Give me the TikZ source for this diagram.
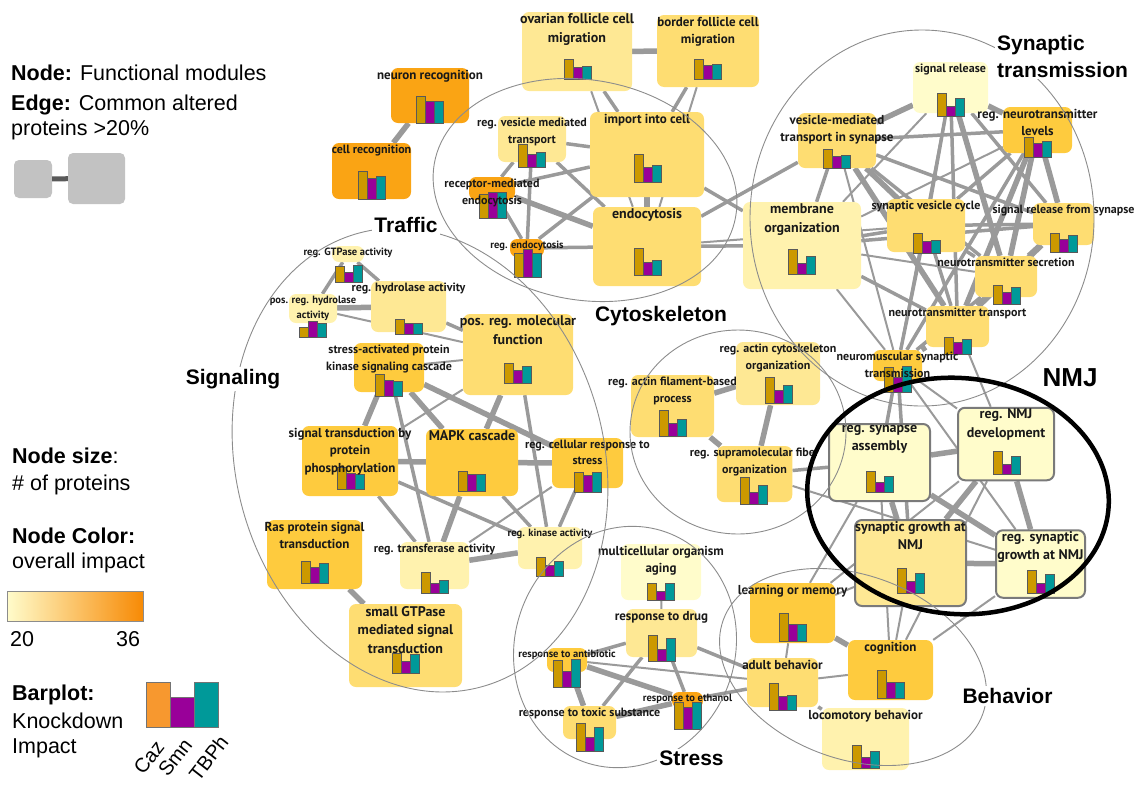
\documentclass[tikz,border=0pt]{standalone}
\usepackage{fontspec}
\setmainfont{Liberation Sans}
\newfontfamily\modfont{PT Sans}
\usetikzlibrary{positioning, calc, backgrounds}
\definecolor{impPale}{HTML}{FFFCCB}
\definecolor{impLight}{HTML}{FFF2AE}
\definecolor{impLightYel}{HTML}{FEE894}
\definecolor{impYel}{HTML}{FEDD72}
\definecolor{impGold}{HTML}{FECB3E}
\definecolor{impOrange}{HTML}{FAA414}
\definecolor{impMid}{HTML}{FEEBA5}
\definecolor{impMax}{HTML}{F78A05}
\definecolor{cazbar}{HTML}{CC9900}
\definecolor{smnbar}{HTML}{990099}
\definecolor{tbphbar}{HTML}{009999}
\definecolor{cazlegend}{HTML}{F7982F}
\definecolor{edgegray}{HTML}{9A9A9A}
\definecolor{clustergray}{HTML}{8C8C8C}
\definecolor{nmjborder}{HTML}{7A7A7A}
\definecolor{legendgray}{HTML}{C2C2C2}

% three knockdown bars, #1 = centre of the base
\newcommand{\barplot}[4]{%
  \draw[bar, fill=cazbar] ($(#1)+(-13.5,0)$) rectangle ++(9,-#2);
  \draw[bar, fill=smnbar] ($(#1)+(-4.5,0)$) rectangle ++(9,-#3);
  \draw[bar, fill=tbphbar] ($(#1)+(4.5,0)$) rectangle ++(9,-#4);
}

\begin{document}
\begin{tikzpicture}[
    x=1pt, y=-1pt,
    module/.style={rectangle, rounded corners=7pt, inner sep=0pt},
    nmjmodule/.style={module, draw=nmjborder, line width=2pt},
    boxsize/.style 2 args={minimum width=#1, minimum height=#2},
    modlabel/.style={font=\modfont\bfseries\fontsize{12}{16.5}\selectfont, text=black!90, align=center, inner sep=0pt},
    smalllabel/.style={modlabel, font=\modfont\bfseries\fontsize{10.5}{15}\selectfont},
    largelabel/.style={modlabel, font=\modfont\bfseries\fontsize{13}{17.5}\selectfont},
    hugelabel/.style={modlabel, font=\modfont\bfseries\fontsize{14}{18.5}\selectfont},
    bar/.style={draw=black!65, line width=0.6pt},
    thinlink/.style={draw=edgegray, line width=2pt},
    midlink/.style={draw=edgegray, line width=3.5pt},
    widelink/.style={draw=edgegray, line width=5.5pt},
    cluster/.style={draw=clustergray, line width=0.9pt},
    clusterlabel/.style={font=\bfseries\fontsize{21}{27}\selectfont, fill=white, inner sep=2pt, align=left},
    legendtext/.style={font=\fontsize{21.5}{25}\selectfont, anchor=base west, inner sep=0pt},
    legendbar/.style={draw=black!55, line width=0.8pt}
]
\useasboundingbox (0,0) rectangle (1139,785);

% Legend
\node[legendtext] (lnode) at (11,80) {\textbf{Node:} Functional modules};
\node[legendtext] (ledge) at (11,110) {\textbf{Edge:} Common altered};
\node[legendtext] (ledge2) at (11,135) {proteins >20\%};
\node[module, rounded corners=5pt, fill=legendgray, boxsize={38}{38}] (lsmall) at (33,179) {};
\node[module, rounded corners=5pt, fill=legendgray, boxsize={57}{51}] (lbig) at (96.5,178.5) {};
\draw[draw=black!65, line width=5pt] (lsmall) -- (lbig);
\node[legendtext] (lsize) at (12,463) {\textbf{Node size}:};
\node[legendtext] (lsize2) at (12,490) {\# of proteins};
\node[legendtext] (lcolor) at (12,543) {\textbf{Node Color:}};
\node[legendtext] (lcolor2) at (12,568) {overall impact};
\node[draw=black!45, line width=0.8pt, left color=impPale, middle color=impMid, right color=impMax, boxsize={136}{30}] (scalebar) at (75,606) {};
\node[legendtext] (lmin) at (10,646) {20};
\node[legendtext] (lmax) at (116,646) {36};
\node[legendtext] (lbar) at (12,700) {\textbf{Barplot:}};
\node[legendtext] (lbar2) at (12,728) {Knockdown};
\node[legendtext] (lbar3) at (12,753) {Impact};
\draw[legendbar, fill=cazlegend] (146,727) rectangle (170,682);
\draw[legendbar, fill=smnbar] (170,727) rectangle (194,697);
\draw[legendbar, fill=tbphbar] (194,727) rectangle (218,682);
\node[legendtext, font=\fontsize{20}{24}\selectfont, anchor=east, rotate=52] (lcaz) at (160,743) {Caz};
\node[legendtext, font=\fontsize{20}{24}\selectfont, anchor=east, rotate=52] (lsmn) at (188,741) {Smn};
\node[legendtext, font=\fontsize{20}{24}\selectfont, anchor=east, rotate=52] (ltbph) at (224,738) {TBPh};

% Traffic
\node[module, fill=impOrange, boxsize={78}{55}] (neurorec) at (430,95.5) {};
\barplot{430,123}{27}{22}{22}
\node[largelabel, below=2pt of neurorec.north] (neurorec-t) {neuron recognition};
\node[module, fill=impOrange, boxsize={79}{56}] (cellrec) at (371.5,171) {};
\barplot{371.5,199}{28}{21}{23}
\node[modlabel, below=2pt of cellrec.north] (cellrec-t) {cell recognition};
\node[module, fill=impLightYel, boxsize={110}{79}] (ovarian) at (577,51.5) {};
\barplot{577.5,79}{20}{12}{13}
\node[hugelabel, below=2pt of ovarian.north] (ovarian-t) {ovarian follicle cell\\migration};
\node[module, fill=impYel, boxsize={102}{72}] (border) at (708,51) {};
\barplot{708,79}{20}{14}{15}
\node[largelabel, below=2pt of border.north] (border-t) {border follicle cell\\migration};
\node[module, fill=impLightYel, boxsize={68}{46}] (regves) at (532,139) {};
\barplot{532,167}{23}{13}{15}
\node[modlabel, below=2pt of regves.north] (regves-t) {reg. vesicle mediated\\transport};
\node[module, fill=impYel, boxsize={114}{85}] (importcell) at (647,154.5) {};
\barplot{647.5,182}{28}{15}{17}
\node[largelabel, below=2pt of importcell.north] (importcell-t) {import into cell};
\node[module, fill=impOrange, boxsize={46}{23}] (recendo) at (492,188.5) {};
\barplot{492.5,218}{24}{26}{26}
\node[modlabel, below=2pt of recendo.north] (recendo-t) {receptor-mediated\\endocytosis};
\node[module, fill=impOrange, boxsize={34}{18}] (regendo) at (527,248) {};
\barplot{527.5,277}{24}{28}{24}
\node[smalllabel, below=2pt of regendo.north] (regendo-t) {reg. endocytosis};
\node[module, fill=impYel, boxsize={108}{79}] (endocyt) at (647,246.5) {};
\barplot{647.5,275}{27}{13}{15}
\node[hugelabel, below=2pt of endocyt.north] (endocyt-t) {endocytosis};

% Signaling
\node[module, fill=impLight, boxsize={32}{16}] (gtpase) at (348,254) {};
\barplot{348.5,282}{16}{10}{17}
\node[smalllabel, below=2pt of gtpase.north] (gtpase-t) {reg. GTPase activity};
\node[module, fill=impLight, boxsize={48}{29}] (posreghyd) at (313,308.5) {};
\barplot{312.5,337}{10}{16}{14}
\node[smalllabel, below=2pt of posreghyd.north] (posreghyd-t) {pos. reg. hydrolase\\activity};
\node[module, fill=impLightYel, boxsize={75}{51}] (reghyd) at (408.5,306.5) {};
\barplot{408.5,334}{15}{11}{11}
\node[modlabel, below=2pt of reghyd.north] (reghyd-t) {reg. hydrolase activity};
\node[module, fill=impYel, boxsize={110}{81}] (posregmol) at (518,354.5) {};
\barplot{518,383}{20}{13}{17}
\node[hugelabel, below=2pt of posregmol.north] (posregmol-t) {pos. reg. molecular\\function};
\node[module, fill=impGold, boxsize={70}{49}] (sapk) at (389,367.5) {};
\barplot{388.5,396}{22}{16}{15}
\node[modlabel, below=2pt of sapk.north] (sapk-t) {stress-activated protein\\kinase signaling cascade};
\node[module, fill=impGold, boxsize={96}{70}] (sigphos) at (350,461) {};
\barplot{350.5,489}{22}{16}{15}
\node[largelabel, below=2pt of sigphos.north] (sigphos-t) {signal transduction by\\protein\\phosphorylation};
\node[module, fill=impGold, boxsize={92}{67}] (mapk) at (472,462.5) {};
\barplot{472,491}{20}{17}{17}
\node[hugelabel, below=2pt of mapk.north] (mapk-t) {MAPK cascade};
\node[module, fill=impGold, boxsize={71}{50}] (cellstress) at (587.5,463) {};
\barplot{588,492}{20}{17}{20}
\node[modlabel, below=2pt of cellstress.north] (cellstress-t) {reg. cellular response to\\stress};
\node[module, fill=impGold, boxsize={95}{69}] (ras) at (314.5,554.5) {};
\barplot{314.5,583}{22}{16}{20}
\node[largelabel, below=2pt of ras.north] (ras-t) {Ras protein signal\\transduction};
\node[module, fill=impLight, boxsize={69}{47}] (transf) at (434.5,565.5) {};
\barplot{434.5,593}{21}{10}{13}
\node[modlabel, below=2pt of transf.north] (transf-t) {reg. transferase activity};
\node[module, fill=impLight, boxsize={64}{42}] (kinase) at (550,548) {};
\barplot{550,576}{19}{11}{15}
\node[smalllabel, below=2pt of kinase.north] (kinase-t) {reg. kinase activity};
\node[module, fill=impYel, boxsize={113}{83}] (smallgtp) at (405.5,645.5) {};
\barplot{405.5,673}{20}{12}{19}
\node[hugelabel, below=2pt of smallgtp.north] (smallgtp-t) {small GTPase\\mediated signal\\transduction};

% Cytoskeleton
\node[module, fill=impYel, boxsize={83}{62}] (actfil) at (672.5,406) {};
\barplot{672.5,436}{26}{13}{17}
\node[modlabel, below=2pt of actfil.north] (actfil-t) {reg. actin filament-based\\process};
\node[module, fill=impLightYel, boxsize={84}{63}] (actcyt) at (778,373.5) {};
\barplot{778.5,403}{26}{13}{17.5}
\node[modlabel, below=2pt of actcyt.north] (actcyt-t) {reg. actin cytoskeleton\\organization};
\node[module, fill=impYel, boxsize={75.5}{56}] (supramol) at (754.5,474) {};
\barplot{754,504}{27}{12}{19}
\node[modlabel, below=2pt of supramol.north] (supramol-t) {reg. supramolecular fiber\\organization};

% Synaptic transmission
\node[module, fill=impPale, boxsize={75}{51}] (sigrel) at (950.5,87.5) {};
\barplot{951,116}{23}{10}{18}
\node[modlabel, below=2pt of sigrel.north] (sigrel-t) {signal release};
\node[module, fill=impGold, boxsize={69}{46}] (ntlevels) at (1037.5,130) {};
\barplot{1037.5,157}{20}{14}{16}
\node[largelabel, below=2pt of ntlevels.north] (ntlevels-t) {reg. neurotransmitter\\levels};
\node[module, fill=impYel, boxsize={78}{55}] (vesyn) at (837,140.5) {};
\barplot{836.5,168}{19}{12}{13}
\node[largelabel, below=2pt of vesyn.north] (vesyn-t) {vesicle-mediated\\transport in synapse};
\node[module, fill=impLight, boxsize={118}{87}] (membrane) at (802,245.5) {};
\barplot{802,274}{25}{11}{18}
\node[hugelabel, below=2pt of membrane.north] (membrane-t) {membrane\\organization};
\node[module, fill=impYel, boxsize={78}{53}] (svcycle) at (926,225.5) {};
\barplot{926.5,253}{20}{12}{13}
\node[modlabel, below=2pt of svcycle.north] (svcycle-t) {synaptic vesicle cycle};
\node[module, fill=impYel, boxsize={61}{42}] (srsyn) at (1063.5,224) {};
\barplot{1064,252}{19}{13}{17}
\node[modlabel, below=2pt of srsyn.north] (srsyn-t) {signal release from synapse};
\node[module, fill=impYel, boxsize={62}{41}] (ntsec) at (1006,276.5) {};
\barplot{1006.5,304}{19}{12}{17}
\node[modlabel, below=2pt of ntsec.north] (ntsec-t) {neurotransmitter secretion};
\node[module, fill=impYel, boxsize={63}{41}] (nttrans) at (957.5,326.5) {};
\barplot{958,354}{17}{12}{15}
\node[modlabel, below=2pt of nttrans.north] (nttrans-t) {neurotransmitter transport};
\node[module, fill=impGold, boxsize={49}{31}] (nmtrans) at (897.5,365.5) {};
\barplot{897.5,392}{25}{15}{26}
\node[modlabel, below=2pt of nmtrans.north] (nmtrans-t) {neuromuscular synaptic\\transmission};

% NMJ
\node[nmjmodule, fill=impPale, boxsize={101}{77}] (synasm) at (879.5,462.5) {};
\barplot{880,492.5}{21}{10}{16}
\node[hugelabel, below=2pt of synasm.north] (synasm-t) {reg. synapse\\assembly};
\node[nmjmodule, fill=impPale, boxsize={96}{72.5}] (nmjdev) at (1006,444) {};
\barplot{1006.5,474}{23}{10}{17.5}
\node[hugelabel, below=2pt of nmjdev.north] (nmjdev-t) {reg. NMJ\\development};
\node[nmjmodule, fill=impLightYel, boxsize={111}{86}] (syngrow) at (910.5,563) {};
\barplot{911,593}{24.5}{12}{20}
\node[hugelabel, below=2pt of syngrow.north] (syngrow-t) {synaptic growth at\\NMJ};
\node[nmjmodule, fill=impPale, boxsize={89}{67.5}] (regsyngrow) at (1040.5,564) {};
\barplot{1040.5,593.5}{23.5}{10.5}{19}
\node[hugelabel, below=2pt of regsyngrow.north] (regsyngrow-t) {reg. synaptic\\growth at NMJ};

% Stress
\node[module, fill=impPale, boxsize={80}{56}] (aging) at (661,572) {};
\barplot{661,600}{17}{9}{17}
\node[largelabel, below=2pt of aging.north] (aging-t) {multicellular organism\\aging};
\node[module, fill=impLightYel, boxsize={71}{48}] (drug) at (661.5,633) {};
\barplot{661.5,661}{26}{12}{23}
\node[largelabel, below=2pt of drug.north] (drug-t) {response to drug};
\node[module, fill=impGold, boxsize={40}{24}] (antibio) at (567,660) {};
\barplot{566.5,687}{27}{16}{28}
\node[smalllabel, below=2pt of antibio.north] (antibio-t) {response to antibiotic};
\node[module, fill=impYel, boxsize={53}{33}] (toxic) at (589.5,722.5) {};
\barplot{590,751}{28}{14}{24}
\node[modlabel, below=2pt of toxic.north] (toxic-t) {response to toxic substance};
\node[module, fill=impOrange, boxsize={31}{16}] (ethanol) at (687.5,700) {};
\barplot{687.5,729}{27}{22}{27}
\node[smalllabel, below=2pt of ethanol.north] (ethanol-t) {response to ethanol};

% Behavior
\node[module, fill=impGold, boxsize={85}{60}] (learn) at (792.5,613) {};
\barplot{792.5,641}{28}{17}{17}
\node[largelabel, below=2pt of learn.north] (learn-t) {learning or memory};
\node[module, fill=impYel, boxsize={71}{49}] (adult) at (782.5,682.5) {};
\barplot{782.5,710}{27}{14}{15}
\node[largelabel, below=2pt of adult.north] (adult-t) {adult behavior};
\node[module, fill=impGold, boxsize={85}{60}] (cogn) at (890.5,670) {};
\barplot{891,698}{28}{16}{16}
\node[largelabel, below=2pt of cogn.north] (cogn-t) {cognition};
\node[module, fill=impLight, boxsize={87}{62}] (locomot) at (865.5,739) {};
\barplot{865.5,768}{23}{11}{17}
\node[largelabel, below=2pt of locomot.north] (locomot-t) {locomotory behavior};

% Edges
\begin{scope}[on background layer]
\draw[widelink] (neurorec) -- (cellrec);
\draw[widelink] (ovarian) -- (border);
\draw[midlink] (ovarian) -- (importcell);
\draw[thinlink] (ovarian) -- (endocyt);
\draw[midlink] (border) -- (importcell);
\draw[thinlink] (border) -- (endocyt);
\draw[widelink] (importcell) -- (endocyt);
\draw[midlink] (regves) -- (importcell);
\draw[midlink] (regves) -- (recendo);
\draw[midlink] (regves) -- (regendo);
\draw[midlink] (regves) -- (endocyt);
\draw[midlink] (recendo) -- (importcell);
\draw[widelink] (recendo) -- (endocyt);
\draw[midlink] (recendo) -- (regendo);
\draw[midlink] (regendo) -- (importcell);
\draw[midlink] (regendo) -- (endocyt);
\draw[midlink] (importcell) -- (membrane);
\draw[midlink] (endocyt) -- (vesyn);
\draw[midlink] (endocyt) -- (membrane);
\draw[thinlink] (endocyt) -- (svcycle);
\draw[widelink] (sigrel) -- (vesyn);
\draw[widelink] (sigrel) -- (ntlevels);
\draw[midlink] (sigrel) -- (svcycle);
\draw[midlink] (sigrel) -- (srsyn);
\draw[widelink] (sigrel) -- (ntsec);
\draw[midlink] (sigrel) -- (nttrans);
\draw[thinlink] (sigrel) -- (membrane);
\draw[thinlink] (sigrel) -- (nmtrans);
\draw[midlink] (ntlevels) -- (vesyn);
\draw[midlink] (ntlevels) -- (svcycle);
\draw[widelink] (ntlevels) -- (srsyn);
\draw[widelink] (ntlevels) -- (ntsec);
\draw[widelink] (ntlevels) -- (nttrans);
\draw[midlink] (ntlevels) -- (nmtrans);
\draw[thinlink] (ntlevels) -- (membrane);
\draw[midlink] (vesyn) -- (membrane);
\draw[widelink] (vesyn) -- (svcycle);
\draw[midlink] (vesyn) -- (srsyn);
\draw[midlink] (vesyn) -- (ntsec);
\draw[widelink] (vesyn) -- (nttrans);
\draw[thinlink] (vesyn) -- (nmtrans);
\draw[midlink] (membrane) -- (svcycle);
\draw[midlink] (membrane) -- (srsyn);
\draw[thinlink] (membrane) -- (ntsec);
\draw[midlink] (membrane) -- (nttrans);
\draw[thinlink] (membrane) -- (nmtrans);
\draw[midlink] (svcycle) -- (srsyn);
\draw[midlink] (svcycle) -- (ntsec);
\draw[midlink] (svcycle) -- (nttrans);
\draw[midlink] (svcycle) -- (nmtrans);
\draw[widelink] (srsyn) -- (ntsec);
\draw[widelink] (srsyn) -- (nttrans);
\draw[widelink] (ntsec) -- (nttrans);
\draw[midlink] (ntsec) -- (nmtrans);
\draw[widelink] (nttrans) -- (nmtrans);
\draw[midlink] (nmtrans) -- (synasm);
\draw[thinlink] (nmtrans) -- (nmjdev);
\draw[midlink] (nmtrans) -- (syngrow);
\draw[thinlink] (nmtrans) -- (regsyngrow);
\draw[thinlink] (nttrans) -- (nmjdev);
\draw[widelink] (synasm) -- (nmjdev);
\draw[widelink] (synasm) -- (syngrow);
\draw[widelink] (synasm) -- (regsyngrow);
\draw[widelink] (nmjdev) -- (syngrow);
\draw[widelink] (nmjdev) -- (regsyngrow);
\draw[widelink] (syngrow) -- (regsyngrow);
\draw[midlink] (supramol) -- (synasm);
\draw[thinlink] (supramol) -- (regsyngrow);
\draw[thinlink] (synasm) -- (learn);
\draw[thinlink] (syngrow) -- (learn);
\draw[thinlink] (nmjdev) -- (learn);
\draw[thinlink] (syngrow) -- (cogn);
\draw[thinlink] (synasm) -- (cogn);
\draw[thinlink] (nmjdev) -- (cogn);
\draw[thinlink] (regsyngrow) -- (cogn);
\draw[widelink] (actfil) -- (actcyt);
\draw[widelink] (actfil) -- (supramol);
\draw[widelink] (actcyt) -- (supramol);
\draw[midlink] (gtpase) -- (posreghyd);
\draw[midlink] (gtpase) -- (reghyd);
\draw[widelink] (posreghyd) -- (reghyd);
\draw[thinlink] (posreghyd) -- (posregmol);
\draw[midlink] (reghyd) -- (posregmol);
\draw[thinlink] (sapk) -- (posregmol);
\draw[widelink] (sapk) -- (sigphos);
\draw[widelink] (sapk) -- (mapk);
\draw[widelink] (sapk) -- (cellstress);
\draw[midlink] (sapk) -- (transf);
\draw[thinlink] (posregmol) -- (sigphos);
\draw[widelink] (posregmol) -- (mapk);
\draw[midlink] (posregmol) -- (kinase);
\draw[widelink] (sigphos) -- (mapk);
\draw[widelink] (mapk) -- (cellstress);
\draw[midlink] (sigphos) -- (kinase);
\draw[midlink] (sigphos) -- (transf);
\draw[widelink] (mapk) -- (transf);
\draw[midlink] (mapk) -- (kinase);
\draw[midlink] (cellstress) -- (kinase);
\draw[thinlink] (cellstress) -- (transf);
\draw[widelink] (transf) -- (kinase);
\draw[widelink] (ras) -- (smallgtp);
\draw[thinlink] (aging) -- (drug);
\draw[midlink] (drug) -- (antibio);
\draw[midlink] (drug) -- (toxic);
\draw[midlink] (drug) -- (ethanol);
\draw[midlink] (drug) -- (adult);
\draw[widelink] (antibio) -- (toxic);
\draw[widelink] (antibio) -- (ethanol);
\draw[thinlink] (antibio) -- (adult);
\draw[widelink] (ethanol) -- (toxic);
\draw[midlink] (ethanol) -- (adult);
\draw[widelink] (learn) -- (cogn);
\draw[thinlink] (learn) -- (adult);
\draw[thinlink] (adult) -- (cogn);
\draw[midlink] (adult) -- (locomot);
\end{scope}

% Clusters
\draw[cluster, rotate around={-10:(585,190)}] (585,190) ellipse [x radius=153, y radius=110];
\draw[cluster, rotate around={15:(420,460)}] (420,460) ellipse [x radius=184, y radius=235];
\draw[cluster] (738,432) ellipse [x radius=108, y radius=102];
\draw[cluster] (922,218) ellipse [x radius=172, y radius=188];
\draw[cluster, rotate around={-20:(625,647)}] (625,647) ellipse [x radius=110, y radius=122];
\draw[cluster, rotate around={-20:(853,667)}] (853,667) ellipse [x radius=138, y radius=92];
\draw[line width=4.5pt, rotate around={-5:(958,496)}] (958,496) ellipse [x radius=151, y radius=118];

\node[clusterlabel] (traffic) at (406,225) {Traffic};
\node[clusterlabel] (signaling) at (233,379) {Signaling};
\node[clusterlabel] (cytoskel) at (661,316) {Cytoskeleton};
\node[clusterlabel, anchor=west] (syntrans) at (995,56) {Synaptic\\transmission};
\node[clusterlabel, font=\bfseries\fontsize{26}{30}\selectfont] (nmj) at (1070,377.5) {NMJ};
\node[clusterlabel] (stress) at (691.5,758.5) {Stress};
\node[clusterlabel] (behavior) at (1007.5,696) {Behavior};

\end{tikzpicture}
\end{document}
